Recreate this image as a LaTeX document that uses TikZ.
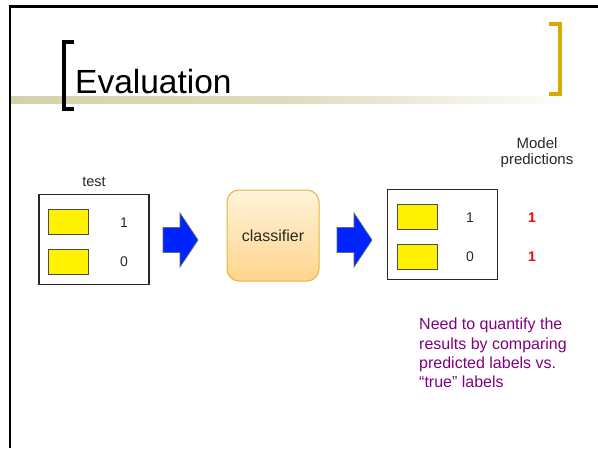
\documentclass[tikz,border=0pt]{standalone}
\usepackage{fontspec}
\setmainfont{Liberation Sans}
\usetikzlibrary{positioning,calc}
\definecolor{titlegold}{RGB}{218,168,0}
\definecolor{bandkhaki}{RGB}{212,209,168}
\definecolor{arrowblue}{RGB}{0,36,255}
\definecolor{notepurple}{RGB}{128,0,128}
\definecolor{clfedge}{RGB}{230,180,60}
\definecolor{clftop}{RGB}{255,244,218}
\definecolor{clfbottom}{RGB}{255,212,140}
\definecolor{textgray}{RGB}{40,40,40}
\tikzset{
  databox/.style={draw=textgray, line width=1.5pt, minimum width=110pt, minimum height=90pt, inner sep=0pt},
  sample/.style={draw=black!70, fill=yellow, line width=0.6pt, minimum width=40pt, minimum height=25pt, inner sep=0pt},
  lbl/.style={text=textgray, font=\fontsize{14}{16}\selectfont, inner sep=0pt},
  pred/.style={text=red, font=\fontsize{14}{16}\selectfont\bfseries, inner sep=0pt},
  clf/.style={draw=clfedge, line width=1pt, rounded corners=12pt, top color=clftop, bottom color=clfbottom,
    minimum width=92pt, minimum height=91pt, text=textgray, font=\fontsize{16}{18}\selectfont},
  blockarrow/.style={fill=arrowblue, draw=black!60, line width=0.6pt},
}
\newcommand\blockarrow[1]{% (left end of the shaft)
  \filldraw[blockarrow] (#1) ++(0,-12.5) -- ++(17,0) -- ++(0,-14.5) -- ++(18,27) -- ++(-18,27) -- ++(0,-14.5) -- ++(-17,0) -- cycle;}
\begin{document}
\begin{tikzpicture}[x=1pt, y=-1pt]
\useasboundingbox (0,0) rectangle (598,448);
% slide frame and title
\draw[line width=2.5pt] (10,448) -- (10,6.5) -- (598,6.5);
\shade[left color=bandkhaki, right color=white, middle color=bandkhaki!75] (11,96) rectangle (578,103);
\draw[line width=4pt] (74,42) -- (64,42) -- (64,109) -- (74,109);
\draw[titlegold, line width=3.5pt] (549,24) -- (560,24) -- (560,94) -- (549,94);
\node[anchor=base west, inner sep=0pt, font=\fontsize{33.5}{38}\selectfont] (title) at (75,93) {Evaluation};
% test set
\node[databox] (test) at (94,239.5) {};
\node[lbl, above=7pt of test, font=\fontsize{14.5}{16}\selectfont] (testlbl) {test};
\node[sample] (t1) at (68,221.5) {};
\node[sample] (t2) at (68,261.5) {};
\node[lbl] (t1y) at (124,223) {1};
\node[lbl] (t2y) at (124,262) {0};
\blockarrow{163,240}
% classifier
\node[clf] (clf) at (273,235.5) {classifier};
\blockarrow{337,240}
% predictions
\node[databox] (pred) at (442.5,234.5) {};
\node[sample] (p1) at (417,216.5) {};
\node[sample] (p2) at (417,256.5) {};
\node[lbl] (p1y) at (470,218) {1};
\node[lbl] (p2y) at (470,257) {0};
\node[pred] (p1hat) at (532,218) {1};
\node[pred] (p2hat) at (532,257) {1};
\node[lbl, align=center, font=\fontsize{15}{16.5}\selectfont] (mphead) at (537,152.5) {Model\\predictions};
% note
\node[anchor=north west, align=left, text=notepurple, font=\fontsize{16}{19.3}\selectfont, inner sep=0pt] (note) at (419,318)
  {Need to quantify the\\results by comparing\\predicted labels vs.\\“true” labels};
\end{tikzpicture}
\end{document}
